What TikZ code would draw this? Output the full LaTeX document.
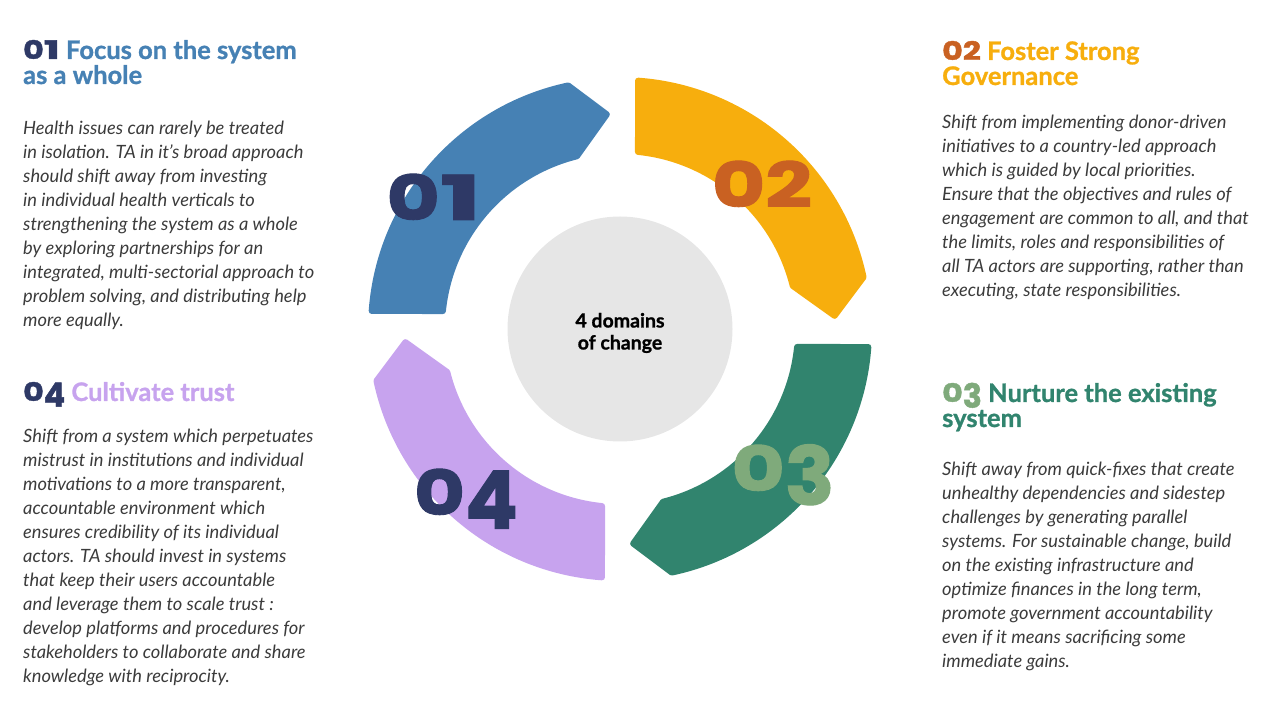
\documentclass[tikz,border=0pt]{standalone}
\usepackage{fontspec}
\setmainfont{Lato}[BoldFeatures={FakeBold=1}]
\newfontfamily\numfont{Poppins}[BoldFeatures={FakeBold=1.5}]
\usetikzlibrary{positioning}
\definecolor{segblue}{HTML}{4681B4}
\definecolor{segyellow}{HTML}{F7AE0D}
\definecolor{seggreen}{HTML}{31846E}
\definecolor{seglilac}{HTML}{C7A3EE}
\definecolor{navy}{HTML}{2E3966}
\definecolor{rust}{HTML}{C96122}
\definecolor{sage}{HTML}{7FAA7B}
\definecolor{coregray}{HTML}{E6E6E6}
\definecolor{bodygray}{HTML}{3B3B3B}
\newcommand\widen[2][1.32]{\scalebox{#1}[1]{#2}}
\newcommand\one{\scalebox{1.35}[1]{1}}
\newcommand\osfig[1]{\raisebox{-0.22em}{\scalebox{1}[1.3]{#1}}}
\newcommand\hnum{\fontsize{25.5}{25}\numfont}

\begin{document}
\begin{tikzpicture}[x=1pt,y=1pt,seg/.style={line width=6pt,line join=round},head/.style={anchor=base west,inner sep=0pt,align=left,font=\fontsize{25.5}{25}\selectfont\bfseries},body/.style={anchor=base west,inner sep=0pt,align=left,text=bodygray,font=\fontsize{18.3}{24}\selectfont\itshape},bignum/.style={anchor=base,inner sep=0pt,font=\fontsize{62}{62}\selectfont\numfont\bfseries}]
\useasboundingbox (0,0) rectangle (1277,704);
% ring of four arrows
\begin{scope}[shift={(620,375)}]
\foreach \col [count=\i] in {segblue,segyellow,seggreen,seglilac}
  \filldraw[seg,fill=\col,draw=\col,rotate=-90*(\i-1)] (175.85:249pt) arc[start angle=175.85,end angle=102,radius=249pt] -- (93.5:215pt) -- (104:178pt) arc[start angle=104,end angle=174.2,radius=178pt] -- cycle;
\node[circle,fill=coregray,minimum size=225pt,inner sep=0pt] (core) {};
\node[align=center,font=\fontsize{19.5}{22}\selectfont\bfseries] (corelbl) at (0,-4) {4 domains\\of change};
\end{scope}
\node[bignum,text=navy] (n1) at (434,484) {\widen{0\one}};
\node[bignum,text=rust] (n2) at (762,497) {\widen{02}};
\node[bignum,text=sage] (n3) at (783,213) {\widen{0\osfig{3}}};
\node[bignum,text=navy] (n4) at (466,189) {\widen[1.26]{0\osfig{4}}};
% headings
\node[head,text=segblue] (t1) at (23,620) {{\hnum\color{navy}\widen[1.24]{0\one}} Focus on the system\\as a whole};
\node[head,text=segyellow] (t2) at (942,619) {{\hnum\color{rust}\widen[1.24]{02}} Foster Strong\\Governance};
\node[head,text=seggreen] (t3) at (942,277) {{\hnum\color{sage}\widen[1.24]{0\osfig{3}}} Nurture the existing\\system};
\node[head,text=seglilac] (t4) at (23,303) {{\hnum\color{navy}\widen[1.24]{0\osfig{4}}} Cultivate trust};
% texts
\node[body,below=243pt of t1.base west,anchor=base west] (b1) {Health issues can rarely be treated\\in isolation. TA in it’s broad approach\\should shift away from investing\\in individual health verticals to\\strengthening the system as a whole\\by exploring partnerships for an\\integrated, multi-sectorial approach to\\problem solving, and distributing help\\more equally.};
\node[body,below=212pt of t2.base west,anchor=base west] (b2) {Shift from implementing donor-driven\\initiatives to a country-led approach\\which is guided by local priorities.\\Ensure that the objectives and rules of\\engagement are common to all, and that\\the limits, roles and responsibilities of\\all TA actors are supporting, rather than\\executing, state responsibilities.};
\node[body,below=241pt of t3.base west,anchor=base west] (b3) {Shift away from quick-fixes that create\\unhealthy dependencies and sidestep\\challenges by generating parallel\\systems. For sustainable change, build\\on the existing infrastructure and\\optimize finances in the long term,\\promote government accountability\\even if it means sacrificing some\\immediate gains.};
\node[body,below=282pt of t4.base west,anchor=base west] (b4) {Shift from a system which perpetuates\\mistrust in institutions and individual\\motivations to a more transparent,\\accountable environment which\\ensures credibility of its individual\\actors. TA should invest in systems\\that keep their users accountable\\and leverage them to scale trust :\\develop platforms and procedures for\\stakeholders to collaborate and share\\knowledge with reciprocity.};
\end{tikzpicture}
\end{document}
